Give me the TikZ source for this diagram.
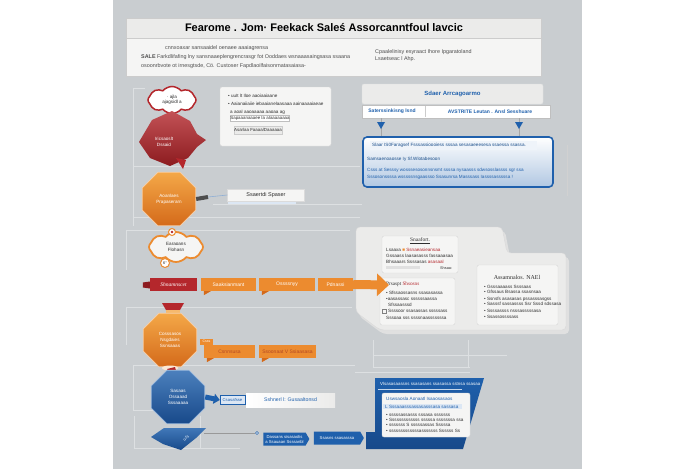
\documentclass[tikz,border=0pt]{standalone}
\usepackage{fontspec}
\setmainfont{Liberation Sans}
\newfontfamily\serifc{Liberation Serif}
\usetikzlibrary{shapes.geometric,shapes.symbols,arrows.meta,calc}

\definecolor{panelgray}{HTML}{C9CDD0}
\definecolor{paper}{HTML}{EBEBEA}
\definecolor{paperw}{HTML}{F5F5F4}
\definecolor{rulegray}{HTML}{DDE0E2}
\definecolor{redc}{HTML}{B4272C}
\definecolor{redd}{HTML}{8C1B1F}
\definecolor{orc}{HTML}{EC8B2F}
\definecolor{ord}{HTML}{D46A1A}
\definecolor{orl}{HTML}{F4A848}
\definecolor{bluc}{HTML}{1F60AC}
\definecolor{blud}{HTML}{17498A}
\definecolor{blul}{HTML}{DCE7F4}
\definecolor{inkc}{HTML}{2E2E2E}

\newcommand\tsz[1]{\fontsize{#1}{#1}\selectfont}

\tikzset{
  tx/.style={font=\fontsize{4.6}{5.6}\selectfont, inner sep=0pt, text=inkc},
  txl/.style={tx, anchor=west},
  introtx/.style={txl, font=\fontsize{5.4}{6}\selectfont, text=inkc!85},
  guide/.style={draw=rulegray, line width=0.7pt},
  card/.style={draw=black!16, fill=paperw, rounded corners=2pt},
  octo/.style={regular polygon, regular polygon sides=8, minimum size=58pt,
    inner sep=0pt, align=center, text=white, font=\fontsize{4.6}{6}\selectfont},
  obanner/.style={fill=orc, text=white, minimum height=13pt, inner sep=1pt,
    font=\fontsize{5}{6}\selectfont},
  sign/.style={signal, signal to=east, signal pointer angle=120, fill=bluc,
    text=white, minimum height=13pt, inner sep=1pt, align=center,
    font=\fontsize{4.2}{5}\selectfont}
}

\begin{document}
\begin{tikzpicture}[x=1pt,y=-1pt]
\useasboundingbox (0,0) rectangle (696,469);
\fill[white] (0,0) rectangle (696,469);
\fill[panelgray] (113,0) rectangle (582,469);

% ---- frame guides of the left column
\draw[guide] (133,88) -- (133,226);
\draw[guide] (133,88) -- (145,88);
\draw[guide] (133,166) -- (360,166);
\draw[guide] (213,204) -- (362,204);
\draw[guide] (133,217) -- (360,217);
\draw[guide] (126,230) -- (350,230);
\draw[guide] (126,230) -- (126,270);
\draw[guide] (126,307) -- (352,307);
\draw[guide] (126,307) -- (126,345);
\draw[guide] (133,365) -- (355,365);
\draw[guide] (133,365) -- (133,410);
\draw[guide] (133,410) -- (180,410);
\draw[guide] (134,416) -- (134,448) -- (240,448);
\draw[guide] (200,416) -- (200,448);
\draw[guide] (373,340) -- (373,367) -- (470,367);
\draw[guide] (373,355) -- (507,355);
\draw[guide] (468,340) -- (468,367);
\draw[guide] (355,372) -- (470,372);
\draw[draw=black!18, line width=0.5pt] (567,145) -- (567,196);

% ---- title and introduction
\node[draw=black!20, fill=paper, minimum width=415pt, minimum height=20pt, inner sep=0pt] (titlebar) at (333.5,28) {};
\node[font=\bfseries\fontsize{11}{13}\selectfont, text=black, inner sep=0pt] (title) at (324,28)
      {Fearome . Jom· Feekack Saleś Assorcanntfoul lavcic};
\node[draw=black!20, fill=paperw, minimum width=415pt, minimum height=38pt] (intro) at (333.5,57) {};
\node[introtx] (introA) at (165,48) {cnnxoaxar sansaaidel oenaee aaaiagrensa};
\node[introtx] (introB) at (141,57) {\textbf{SALE} Farkdlifafing lny sansnaaeplengrencrasgr fot Ooddaes wsnaaasaingsasa ssaana};
\node[introtx] (introC) at (141,66) {osoonrbvote ot irnesgtsde, Cö. Custoser Fapdlaoilfaisonrnatasaiasa-};
\node[introtx] (introD) at (375,52) {Cpaalelinisy esyraact Ihore Ipgaratoland};
\node[introtx] (introE) at (375,59) {Lsaetseac l Ahp.};

% ---- first row: red burst and red hub
\node[cloud, cloud puffs=8, cloud puff arc=100, aspect=1.9, draw=redc, line width=1.5pt, fill=white,
      minimum width=48pt, minimum height=27pt, inner sep=0pt, tx, align=center]
      (cloudA) at (172,100) {· ajla\\ ajagsidl a};
\shade[top color=redc!80!white, bottom color=redd]
  (139,142) -- (152,120) -- (172,111) -- (190,121) -- (197,134) -- (206,140)
  -- (197,147) -- (188,158) -- (170,166) -- (150,158) -- cycle;
\fill[redc] (176,158) -- (186,160) -- (183,169) -- cycle;
\node[tx, text=white, align=center] (redhub) at (164,142) {Iricsaoslt\\ Dssaid};

\node[card, minimum width=111pt, minimum height=59pt] (noteA) at (275.5,116.5) {};
\node[txl] (noteA1) at (228,96) {• uuIt lt Iloe aaoiaaiaane};
\node[txl] (noteA2) at (228,104) {• Aaianaiiaiie iebaaianelaasaaa aainaaaaiaeae};
\node[txl] (noteA3) at (230,112) {a aoal aaoaaaaa aaoaa ag};
\node[draw=black!25, fill=white, minimum width=58pt, minimum height=6pt, inner sep=0pt,
      font=\fontsize{4.4}{5}\selectfont, text=inkc] (noteAf) at (260,118.5) {Sapaaanaaaee Ia aIaaaaaaaa};
\node[draw=black!20, fill=paper, minimum width=48pt, minimum height=8pt, inner sep=0pt,
      font=\fontsize{4.4}{5}\selectfont, text=inkc] (noteAb) at (258,130) {Asarlaa Faaaa/Daaaaaa};

% ---- second row: orange hub and its label
\node[octo, top color=orl, bottom color=ord, draw=white!60!orc, line width=0.8pt]
      (octA) at (169,199) {Aoanlaes\\ Prapaserarn};
\node[fill=paperw, draw=black!14, minimum width=77pt, minimum height=12pt, inner sep=0pt,
      font=\fontsize{5.5}{6}\selectfont, text=inkc] (spaser) at (266,195) {Ssaertdi Spaser};
\fill[blul] (228,202) rectangle (296,204);
\coordinate (octAlink) at (208,197);
\draw[inkc!85, line width=4pt] (octA.east) -- (octAlink);
\draw[bluc!50, line width=0.6pt] (octAlink) -- (spaser.west);

% ---- third row: orange cloud and the step banners
\node[cloud, cloud puffs=8, cloud puff arc=100, aspect=1.8, draw=orc, line width=1.8pt, fill=paperw,
      minimum width=54pt, minimum height=30pt, inner sep=0pt, tx, align=center]
      (cloudB) at (176,247) {Earaoans\\ Flohasn};
\node[circle, draw=orc, line width=1pt, fill=white, minimum size=7pt, inner sep=0pt] (pinB) at (172,232) {};
\fill[redc] (pinB) circle (1.4pt);
\node[circle, draw=orc, line width=1pt, fill=white, minimum size=9pt, inner sep=0pt,
      font=\tsz{4}, text=inkc] (badgeB) at (165,263) {6°};

\node[fill=redc, text=white, minimum width=47pt, minimum height=13pt, inner sep=1pt,
      font=\serifc\itshape\fontsize{5.5}{6}\selectfont] (stepR) at (173.5,284.5) {Shnamnscet};
\fill[redd] ($(stepR.west)+(0,-3)$) -- ++(-7,1) -- ++(0,5) -- ($(stepR.west)+(0,4)$) -- cycle;
\node[obanner, minimum width=55pt] (stepO1) at (228.5,284.5) {Saaksianmant};
\node[obanner, minimum width=56pt] (stepO2) at (287,284.5) {Ossssnyy};
\node[obanner, minimum width=35pt] (stepO3) at (335.5,284.5) {Pdnassi};
\foreach \b in {stepO1,stepO2}
  \fill[ord] ($(\b.south west)+(3,0)$) -- ++(7,0) -- ++(-7,4) -- cycle;

% ---- fourth row: orange flask hub and banners
\fill[redc] (162,303) -- (184,303) -- (180,310) -- (166,310) -- cycle;
\fill[orl!80!white] (166,310) rectangle (180,315);
\node[octo, top color=orl, bottom color=ord, draw=white!60!orc, line width=0.8pt]
      (octB) at (170,340) {Cosssasos\\ Nsgdaies\\ Ssnsaaas};
\fill[white!80!orc] (170,368) ellipse (8pt and 2.5pt);
\node[fill=orc, minimum width=13pt, minimum height=6pt, inner sep=0pt,
      font=\tsz{3.5}, text=white] (tagB) at (206.5,341.5) {Csss};
\node[obanner, minimum width=51pt, text=redd!60!orc] (stepO4) at (229.5,351.5) {Csnnsusa};
\node[obanner, minimum width=57pt, text=redd!60!orc] (stepO5) at (287.5,351.5) {Ssoonaat V Ssiaasasa};
\foreach \b in {stepO4,stepO5}
  \fill[ord] ($(\b.south west)+(3,0)$) -- ++(7,0) -- ++(-7,4) -- cycle;
\fill[redc] (167,369) -- (175,367) -- (178,378) -- (172,376) -- cycle;

% ---- fifth row: blue hub
\node[octo, top color=bluc!80!white, bottom color=blud, draw=white!60!bluc, line width=0.8pt]
      (octC) at (178,397) {Sasaas\\ Ossaaad\\ Sssaaaaa};
\node[draw=bluc, fill=blul, text=bluc, minimum width=25pt, minimum height=9pt, inner sep=0pt,
      font=\tsz{4.2}] (chipC) at (232.5,400) {Csasafsse};
\draw[bluc, line width=5pt, -{Triangle[length=6pt,width=10pt]}] (octC.east) -- (chipC.west);
\node[left color=white, right color=paper, minimum width=89pt, minimum height=14pt, inner sep=0pt,
      font=\fontsize{5.2}{6}\selectfont, text=bluc] (noteC) at (290.5,400) {Sshnerl l: Gusaaltonsd};

% ---- sixth row: blue tag and signposts
\shade[top color=bluc!85!white, bottom color=blud]
  (151,437) -- (164,428) -- (206,428) -- (196,438) -- (181,450) -- (163,444) -- cycle;
\node[rotate=35, font=\tsz{4.5}, text=blul, inner sep=0pt] (tagCtxt) at (186,438) {ufs};
\coordinate (tagC) at (204,433);
\node[circle, draw=bluc, fill=white, minimum size=3pt, inner sep=0pt] (dotC) at (257,433) {};
\draw[black!40, line width=0.5pt] (tagC) -- (dotC);
\node[sign, minimum width=46pt] (signA) at (284.5,439) {Dassans sisasaolis\\ a Ssauaan Ssssanbl};
\node[sign, minimum width=50pt] (signB) at (337,438) {Ssasns ssasasssa};

% ---- sales assessment header
\node[fill=paper, draw=black!12, minimum width=181pt, minimum height=20pt, rounded corners=2pt,
      font=\bfseries\fontsize{6}{7}\selectfont, text=bluc] (salesHead) at (452.5,94) {Sdaer Arrcagoarmo};
\node[fill=white, draw=black!25, minimum width=188pt, minimum height=13pt] (salesBar) at (456,111.5) {};
\draw[black!20] (425,106) -- (425,117);
\node[tx, font=\bfseries\fontsize{5}{6}\selectfont, text=bluc] (salesL) at (392,111.5) {Saterssinkisng lsnd};
\node[tx, font=\bfseries\fontsize{5}{6}\selectfont, text=bluc] (salesR) at (490,111.5) {AVSTRITE Leutan . Ansl Sesshuare};

\node[draw=bluc, line width=1.6pt, rounded corners=4pt, top color=white, bottom color=bluc!35,
      minimum width=190pt, minimum height=50pt] (blueBox) at (458,162) {};
\coordinate (hookL) at (381,118);
\coordinate (hookR) at (519,118);
\draw[black!35] (hookL) -- (hookL |- blueBox.north);
\draw[black!35] (hookR) -- (hookR |- blueBox.north);
\fill[bluc] (377,122) -- (385,122) -- (381,129) -- cycle;
\fill[bluc] (515,122) -- (523,122) -- (519,129) -- cycle;
\fill[white!55!blul] (370,141) rectangle (537,150);
\node[txl, text=bluc!80!black] (blueA) at (372,145.5) {Slaar IS0Faragsef Fsssassioooiess sssaa sesasaeeesesa ssaessa ssassa.};
\node[txl, text=bluc!80!black] (blueB) at (367,159) {Samsaenoaosse Iy Sf.Wlotabesoon};
\node[txl, text=bluc] (blueC) at (367,170) {Csss at Sesssy wosssesosonnsnsmt ssssa nysaasss sdwsosslassss sgr ssa};
\node[txl, text=bluc] (blueD) at (367,177) {Sssosonssssa wsssssnsgaassso Ssasunrsa Masssass Iassssasssssa !};

% ---- assessment folder with its cards
\fill[black!12, rounded corners=4pt] (359,231) -- (505,231) -- (510,257) -- (569,257) -- (569,334) -- (383,334) -- (359,316) -- cycle;
\filldraw[fill=paper, draw=white!85!black, rounded corners=4pt]
  (356,227) -- (502,227) -- (507,253) -- (566,253) -- (566,330) -- (380,330) -- (356,312) -- cycle;

\node[card, minimum width=76pt, minimum height=37pt] (cardA) at (420,254.5) {};
\node[tx, font=\serifc\fontsize{5.5}{6}\selectfont] (cardAt) at (420,241) {\underline{Snaafort.}};
\node[txl] (cardA1) at (386,250) {Lsaaxa \textcolor{orc}{■} \textcolor{redc}{Ssnaeasieansaa}};
\node[txl] (cardA2) at (386,256) {Gssaass laasasasss fassaaasaa};
\node[txl] (cardA3) at (386,262) {Bhsaaars Ssssasas \textcolor{redc}{asasaal}};
\fill[black!12] (386,266) rectangle (420,269);
\node[txl, font=\tsz{3.8}] (cardA4) at (440,268) {Shsaa:};

\node[card, minimum width=75pt, minimum height=47pt] (cardB) at (417.5,301.5) {};
\node[txl, font=\serifc\fontsize{5.2}{6}\selectfont] (cardBt) at (386,284) {Prsaspt \textcolor{redc}{Shsosns}};
\node[txl] (cardB1) at (386,293) {• Sfssaossasns ssasasassa};
\node[txl] (cardB2) at (386,299) {•aasassasc ssssssaassa};
\node[txl] (cardB3) at (388,305) {Sfssaasssd};
\node[draw=black!50, minimum size=3.5pt, inner sep=0pt] (cardBbox) at (384,311) {};
\node[txl] (cardB4) at (388,311) {Ssssoor ssasassas sssssass};
\node[txl] (cardB5) at (386,318) {Sssoaa sss ssssnaasssssssa};

\node[card, minimum width=81pt, minimum height=60pt] (cardC) at (517.5,295) {};
\node[tx, font=\serifc\fontsize{6}{7}\selectfont] (cardCt) at (517,277) {Assamnalos. NAEl};
\node[txl] (cardC1) at (484,287) {• Gsssaaaass Ssssaas};
\node[txl] (cardC2) at (484,292) {• Gfssaus Bsassa ssasnsaa};
\node[txl] (cardC3) at (484,299) {• Ssnsfs asasasas pssasssasgss};
\node[txl] (cardC4) at (484,304) {• Sasssf sassassss Ssr Sssd sdssasa};
\node[txl] (cardC5) at (484,311) {• Ssssassss nsssasssssasa};
\node[txl] (cardC6) at (484,317) {• Ssassossssass};

\coordinate (arrtip) at (389,285);
\draw[orc, line width=9pt, -{Triangle[length=12pt,width=22pt]}] (stepO3.east) -- (arrtip);

% ---- blue follow-up folder
\shade[top color=bluc, bottom color=blud]
  (375,378) -- (484,378) -- (463,449) -- (366,449) -- (366,432) -- (375,432) -- cycle;
\node[txl, text=white, font=\tsz{4.4}] (folderT) at (380,384) {Vlsasasaassns ssasasans ssasassa sstnsa ssasaa};
\draw[white!75!bluc, line width=0.6pt] (378,389) -- (462,389);
\node[card, minimum width=88pt, minimum height=44pt] (folderCard) at (426,415) {};
\node[txl, text=bluc] (folder1) at (386,399) {Uswsaosla Aonaatl Isaaosasaos};
\fill[blul] (383,404) rectangle (462,409);
\node[txl, text=bluc] (folder2) at (385,406.5) {L Sssaaasssassasasssasa sassasa};
\node[txl] (folder3) at (386,415) {• sssssassasss sssasa sssssss};
\node[txl] (folder4) at (386,420) {• Sssssssssssss sssssa sssssssa ssa};
\node[txl] (folder5) at (386,425) {• sssssss S sssssassas Sssssa};
\node[txl] (folder6) at (386,431) {• sssssssssssssasssssss Ssssss Ss};
\end{tikzpicture}
\end{document}
